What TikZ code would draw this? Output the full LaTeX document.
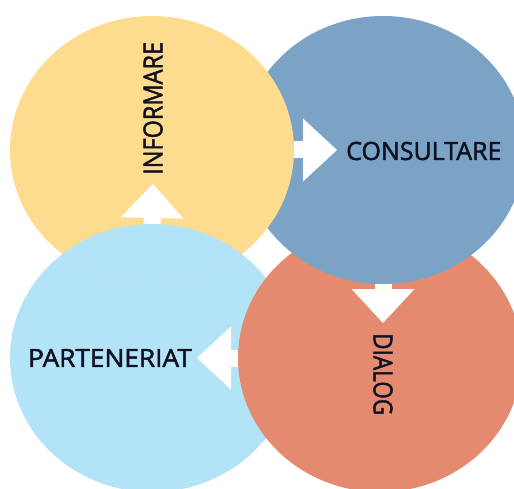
\documentclass[tikz,border=0pt]{standalone}
\usepackage{fontspec}
\newfontfamily\lblfont{Open Sans}[FakeBold=1.8]
\usetikzlibrary{shapes.geometric,arrows.meta}
\definecolor{infoc}{HTML}{FDDC90}
\definecolor{consc}{HTML}{7BA3C5}
\definecolor{dialc}{HTML}{E38A6F}
\definecolor{partc}{HTML}{B3E3F7}
\definecolor{txtc}{HTML}{111122}
\begin{document}
\begin{tikzpicture}[x=1pt,y=-1pt,
	circ/.style={shape=ellipse, minimum width=284pt, minimum height=268pt, inner sep=0pt},
	lbl/.style={font=\lblfont\fontsize{25}{25}\selectfont, text=txtc, inner sep=0pt},
	blockarr/.style={white, line width=17pt, -{Triangle[width=63pt,length=34pt,line width=0pt]}}]
	\useasboundingbox (0,0) rectangle (514,489);
	
	\draw (152,358) node[circ, fill=partc](P){};
	\draw (380,358) node[circ, fill=dialc](D){};
	\draw (383,150) node[circ, fill=consc](C){};
	\draw (152,150) node[circ, fill=infoc](I){};
	\begin{scope}
		\clip (I.center) ellipse [x radius=142, y radius=134];
		\fill[partc] (P.center) ellipse [x radius=142, y radius=134];
	\end{scope}
	
	\draw node[lbl, rotate=90, xscale=0.94, yscale=1.05, anchor=west] at (153,175) (info){INFORMARE};
	\draw node[lbl, anchor=west] at (346,151) (cons){CONSULTARE};
	\draw node[lbl, rotate=-90, xscale=0.9, yscale=1.05, anchor=west] at (383,333) (dial){DIALOG};
	\draw node[lbl, xscale=1.05, anchor=east] at (192,358) (part){PARTENERIAT};
	
	\draw[blockarr, shorten >=9pt] (I.east) -- (I.east -| cons.west);
	\draw[blockarr, shorten >=10pt] (C.south) -- (dial.west);
	\draw[blockarr, shorten >=5pt] (D.west) -- (part.east);
	\draw[blockarr, shorten >=9pt] (P.north) -- (info.west);
\end{tikzpicture}
\end{document}
